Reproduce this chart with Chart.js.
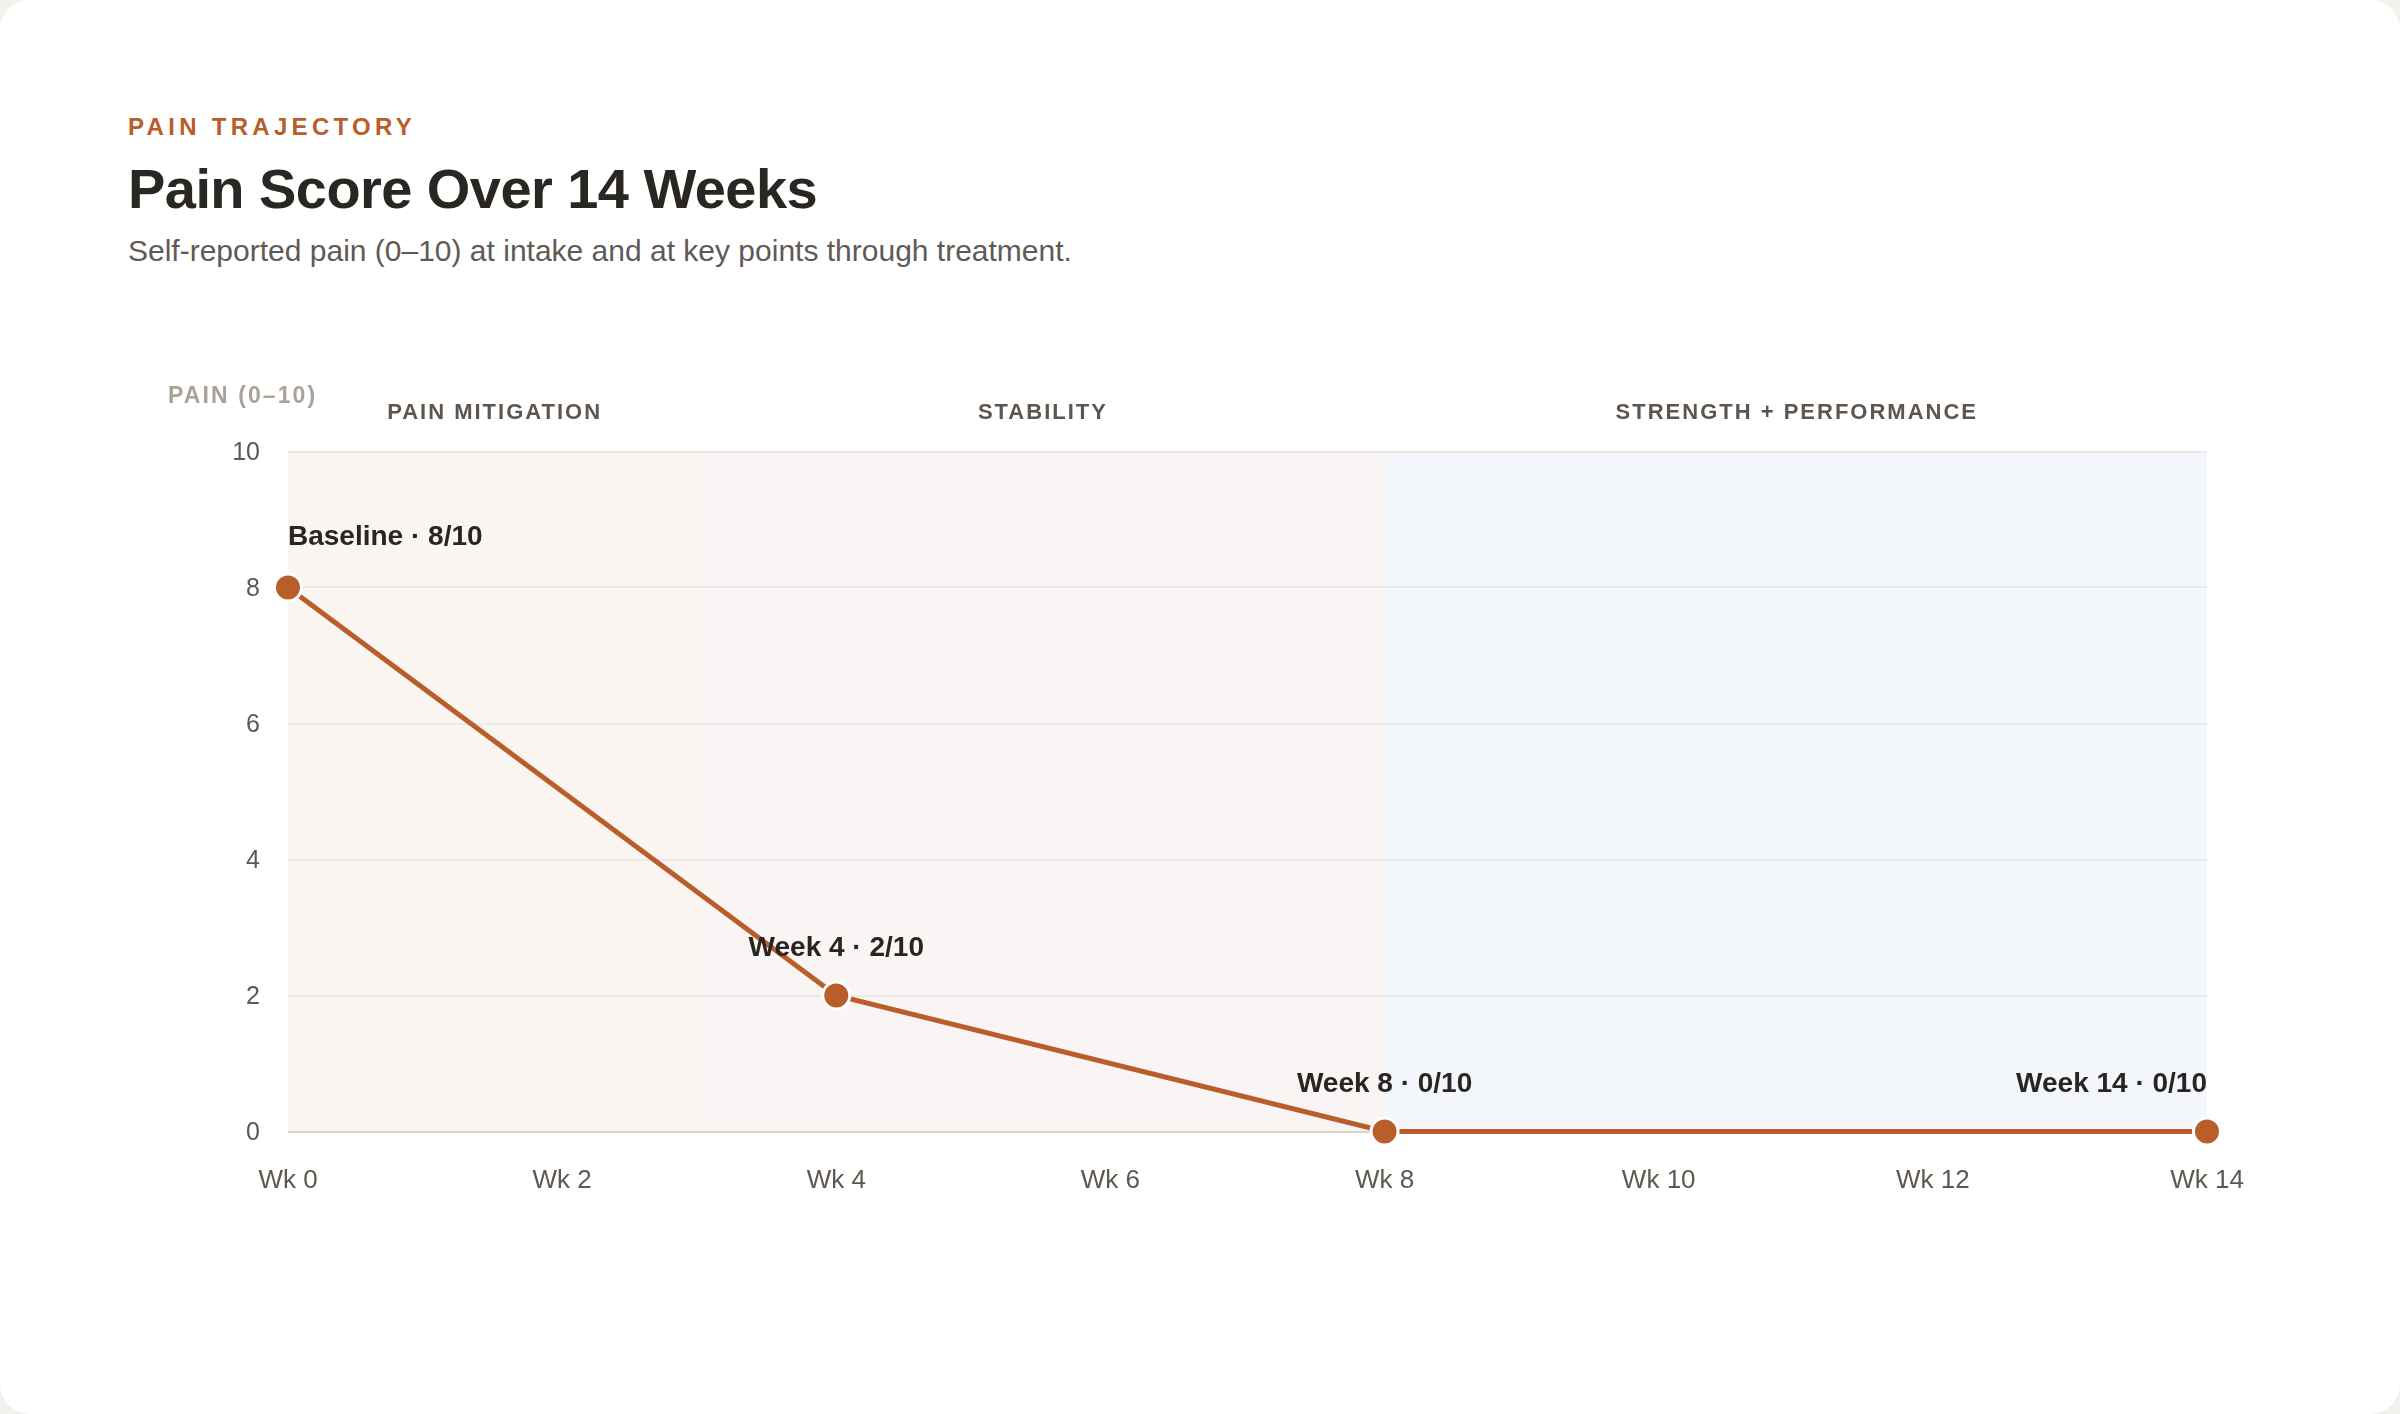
<!DOCTYPE html>
<html>
<head>
<meta charset="utf-8">
<script src="https://cdn.jsdelivr.net/npm/chart.js@4"></script>
<style>
  html, body { margin: 0; padding: 0; }
  body {
    width: 2400px;
    height: 1414px;
    background: #f3f1ec;
    font-family: "Liberation Sans", Arial, sans-serif;
    overflow: hidden;
  }
  .card {
    position: absolute;
    left: 0; top: 0;
    width: 2400px; height: 1414px;
    background: #ffffff;
    border-radius: 30px;
  }
  .eyebrow, .title, .subtitle {
    position: absolute;
    left: 128px;
    margin: 0;
    line-height: 1;
    white-space: nowrap;
  }
  .eyebrow {
    top: 115px;
    font-size: 24px;
    font-weight: 700;
    letter-spacing: 4.3px;
    color: #b95d2b;
  }
  .title {
    top: 161px;
    font-size: 56px;
    font-weight: 700;
    letter-spacing: -0.01em;
    color: #2a2723;
  }
  .subtitle {
    top: 235.5px;
    font-size: 30px;
    color: #5f5a55;
  }
  .chart-wrap {
    position: absolute;
    left: 0; top: 360px;
    width: 2400px; height: 900px;
  }
</style>
</head>
<body>
<div class="card">
  <div class="eyebrow">PAIN TRAJECTORY</div>
  <div class="title">Pain Score Over 14 Weeks</div>
  <div class="subtitle">Self-reported pain (0–10) at intake and at key points through treatment.</div>
  <div class="chart-wrap"><canvas id="pain-chart" width="2400" height="900"></canvas></div>
</div>

<script>
// Data
const weeks = [0, 4, 8, 14];
const painScores = [8, 2, 0, 0];
const pointLabels = ["Baseline · 8/10", "Week 4 · 2/10", "Week 8 · 0/10", "Week 14 · 0/10"];

const phaseNames = ["PAIN MITIGATION", "STABILITY", "STRENGTH + PERFORMANCE"];
const phaseStarts = [0, 3, 8];
const phaseEnds = [3, 8, 14];

const yAxisTitle = "PAIN (0–10)";

// Styles
const rust = "#b95d2b";
const phaseFills = ["#faf5f1", "#f9f5f4", "#f3f7fb"];
const fontFamily = '"Liberation Sans", Arial, sans-serif';

// Phase bands behind the grid, phase names and axis title above it
const phaseBands = {
  id: "phaseBands",
  beforeDraw(chart) {
    const { ctx, chartArea, scales } = chart;
    ctx.save();
    phaseNames.forEach((name, i) => {
      const x1 = scales.x.getPixelForValue(phaseStarts[i]);
      const x2 = scales.x.getPixelForValue(phaseEnds[i]);
      ctx.fillStyle = phaseFills[i];
      ctx.fillRect(x1, chartArea.top, x2 - x1, chartArea.bottom - chartArea.top);
    });
    ctx.restore();
  },
  afterDraw(chart) {
    const { ctx, chartArea, scales } = chart;
    ctx.save();
    ctx.textBaseline = "alphabetic";

    // Phase names
    ctx.font = `700 22px ${fontFamily}`;
    ctx.fillStyle = "#5d554e";
    ctx.textAlign = "center";
    ctx.letterSpacing = "2px";
    phaseNames.forEach((name, i) => {
      const mid = (phaseStarts[i] + phaseEnds[i]) / 2;
      ctx.fillText(name, scales.x.getPixelForValue(mid) + 1, chartArea.top - 32.5);
    });

    // Y axis title
    ctx.font = `700 23px ${fontFamily}`;
    ctx.fillStyle = "#aaa199";
    ctx.textAlign = "left";
    ctx.letterSpacing = "2.1px";
    ctx.fillText(yAxisTitle, 168, chartArea.top - 48.5);
    ctx.restore();
  },
};

// Labels above each point
const pointLabelPlugin = {
  id: "pointLabels",
  afterDatasetsDraw(chart) {
    const { ctx } = chart;
    const meta = chart.getDatasetMeta(0);
    ctx.save();
    ctx.font = `700 28px ${fontFamily}`;
    ctx.fillStyle = "#2a2520";
    ctx.textBaseline = "alphabetic";
    meta.data.forEach((pt, i) => {
      let offset = 40;
      if (i === 0) {
        ctx.textAlign = "left";
        offset = 43;
      } else if (i === meta.data.length - 1) {
        ctx.textAlign = "right";
      } else {
        ctx.textAlign = "center";
      }
      ctx.fillText(pointLabels[i], pt.x, pt.y - offset);
    });
    ctx.restore();
  },
};

new Chart(document.getElementById("pain-chart"), {
  type: "line",
  data: {
    datasets: [
      {
        data: weeks.map((w, i) => ({ x: w, y: painScores[i] })),
        borderColor: rust,
        borderWidth: 5,
        tension: 0,
        pointRadius: 13.5,
        pointBackgroundColor: rust,
        pointBorderColor: "#ffffff",
        pointBorderWidth: 3,
        pointHoverRadius: 13.5,
        clip: false,
      },
    ],
  },
  options: {
    responsive: false,
    animation: false,
    devicePixelRatio: 1,
    layout: {
      padding: { top: 91.5, left: 168, right: 193, bottom: 48.5 },
    },
    plugins: {
      legend: { display: false },
      tooltip: { enabled: false },
    },
    scales: {
      x: {
        type: "linear",
        min: 0,
        max: 14,
        afterFit: (scale) => { scale.height = 80; },
        grid: { display: false, drawTicks: false },
        border: { display: false },
        ticks: {
          stepSize: 2,
          padding: 34,
          color: "#5f5850",
          font: { family: fontFamily, size: 26 },
          callback: (v) => `Wk ${v}`,
        },
      },
      y: {
        min: 0,
        max: 10,
        afterFit: (scale) => { scale.width = 120; },
        grid: {
          drawTicks: false,
          color: (c) => (c.tick && c.tick.value === 0 ? "#d9d3cc" : "#ece8e3"),
          lineWidth: 2,
        },
        border: { display: false },
        ticks: {
          stepSize: 2,
          padding: 28,
          labelOffset: 1.5,
          color: "#5f5850",
          font: { family: fontFamily, size: 25 },
        },
      },
    },
  },
  plugins: [phaseBands, pointLabelPlugin],
});
</script>
</body>
</html>
